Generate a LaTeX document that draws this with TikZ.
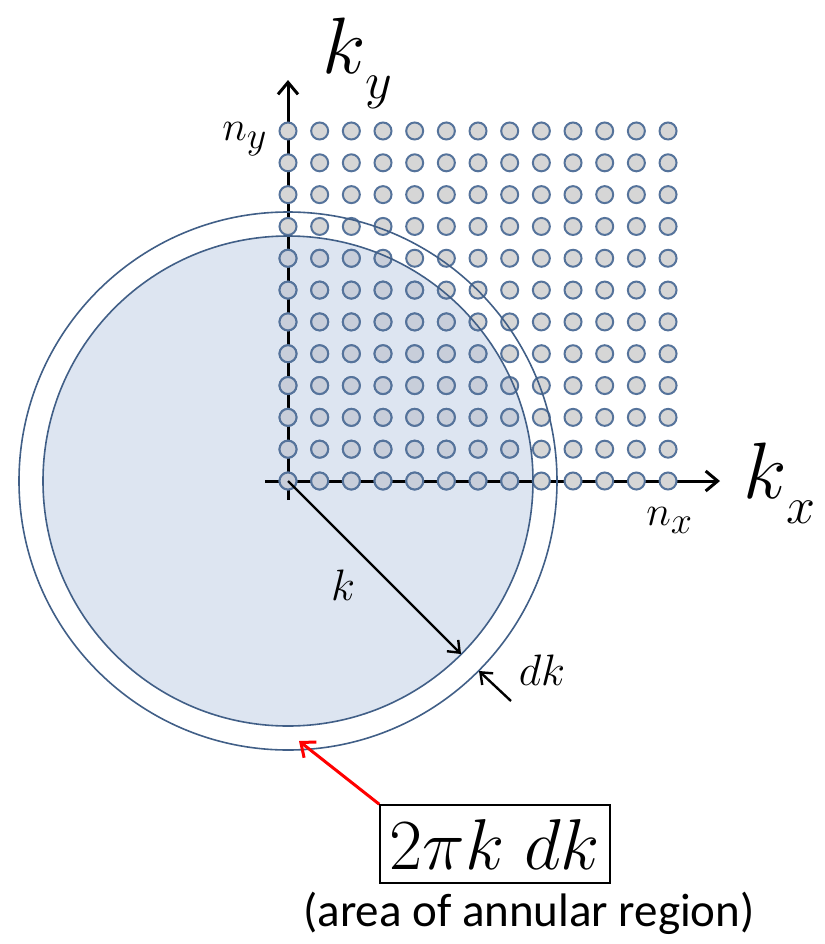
\RequirePackage{fix-cm}
\documentclass[tikz,border=0pt]{standalone}
\usepackage{fontspec}
\newfontfamily\capfont{Carlito}
\usetikzlibrary{arrows.meta}
\definecolor{ringcol}{RGB}{65,95,135}
\definecolor{diskfill}{RGB}{221,229,241}
\definecolor{dotline}{RGB}{85,115,155}
\definecolor{dotfill}{RGB}{214,214,214}
\definecolor{dotfillin}{RGB}{200,206,218}
\tikzset{
  dotstyle/.style={circle,draw=dotline,fill=dotfill,line width=1pt,minimum size=8.5pt,inner sep=0pt},
  axis/.style={line width=1.5pt,-{Straight Barb[length=6pt,width=10pt,line width=1.5pt]}},
  arr/.style={line width=1.2pt,-{Straight Barb[length=5pt,width=8pt,line width=1.2pt]}},
  lab/.style={inner sep=0pt}
}
\begin{document}
\begin{tikzpicture}[x=0.5pt,y=-0.5pt]
\useasboundingbox (0,0) rectangle (825,944);
\coordinate (O) at (288,481);
% disk fill
\fill[diskfill] (O) circle[radius=245];
% axes
\coordinate (ytop) at (288,80);
\coordinate (ybot) at (288,500);
\coordinate (xl) at (265,481);
\coordinate (xr) at (720,481);
\draw[axis] (ybot) -- (ytop);
\draw[axis] (xl) -- (xr);
% dots
\foreach \i in {0,...,12}{
  \foreach \j in {0,...,11}{
    \node[dotstyle] (d-\i-\j) at ({288+\i*31.67},{481-\j*31.82}) {};
  }
}
\begin{scope}
\clip (O) circle[radius=245];
\foreach \i in {0,...,12}{
  \foreach \j in {0,...,11}{
    \node[dotstyle,fill=dotfillin] at ({288+\i*31.67},{481-\j*31.82}) {};
  }
}
\end{scope}
% circles
\draw[ringcol,line width=0.8pt] (O) circle[radius=245];
\draw[ringcol,line width=0.8pt] (O) circle[radius=269];
% labels
\node[lab,anchor=base west] (ky) at (322,73) {\fontsize{40}{40}\selectfont$k$\raisebox{-0.32em}{\fontsize{26}{26}\selectfont$y$}};
\node[lab,anchor=base west] (ny) at (222,140) {\fontsize{21}{21}\selectfont$n$\raisebox{-0.2em}{\fontsize{19}{19}\selectfont$y$}};
\node[lab,anchor=base west] (kx) at (743,498) {\fontsize{40}{40}\selectfont$k$\raisebox{-0.32em}{\fontsize{26}{26}\selectfont$x$}};
\node[lab,anchor=base west] (nx) at (646,525) {\fontsize{21}{21}\selectfont$n$\raisebox{-0.2em}{\fontsize{19}{19}\selectfont$x$}};
\node[lab] (klab) at (343,585) {\fontsize{22}{22}\selectfont$k$};
\node[lab] (dklab) at (542,670) {\fontsize{22}{22}\selectfont$dk$};
% radius arrow
\coordinate (rend) at (461,654);
\draw[arr] (O) -- (rend);
% dk arrow
\coordinate (dks) at (511,701);
\coordinate (dke) at (479,671);
\draw[arr] (dks) -- (dke);
% box
\node[draw,line width=0.8pt,minimum width=115pt,minimum height=39pt,inner sep=0pt] (box) at (495,844) {\fontsize{36}{36}\selectfont$2\pi k\;dk$};
\coordinate (rtip) at (299,741);
\draw[red,line width=1.5pt,-{Straight Barb[length=6pt,width=10pt,line width=1.5pt]}] (box.north west) -- (rtip);
\node[inner sep=0pt] (cap) at (529,913) {\capfont\fontsize{23.5}{23.5}\selectfont(area of annular region)};
\end{tikzpicture}
\end{document}
